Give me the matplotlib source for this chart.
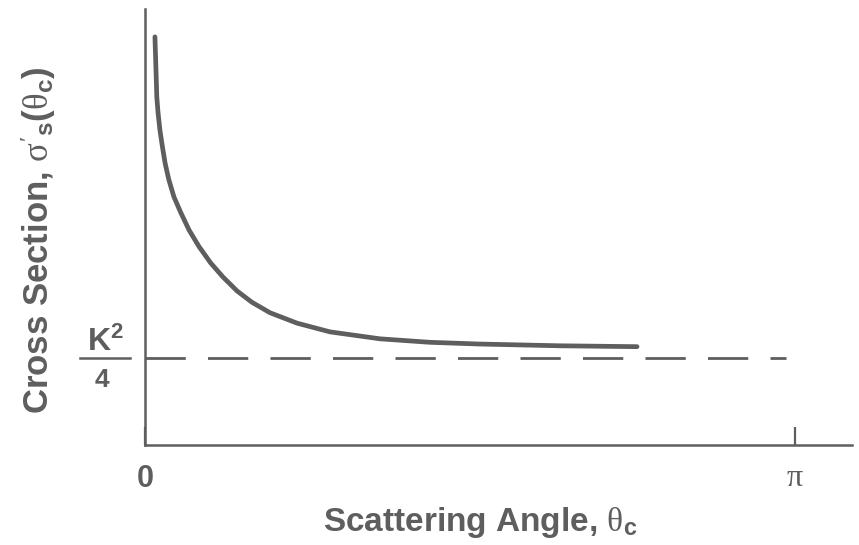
import numpy as np
import matplotlib
matplotlib.use("Agg")
import matplotlib.pyplot as plt
import matplotlib.transforms as mtransforms

# curve (x in radians, y in units of K^2/4)
theta = [0.048, 0.052, 0.057, 0.063, 0.072, 0.084, 0.097, 0.115, 0.140,
         0.173, 0.213, 0.261, 0.318, 0.377, 0.445, 0.517, 0.604, 0.735,
         0.894, 1.136, 1.377, 1.619, 2.006, 2.378]
sigma = [4.69, 4.39, 4.00, 3.82, 3.62, 3.43, 3.24, 3.05, 2.85,
         2.67, 2.47, 2.28, 2.09, 1.93, 1.77, 1.64, 1.52, 1.40,
         1.30, 1.22, 1.18, 1.16, 1.14, 1.13]

# asymptote K^2/4
asym_x = [0.0, 3.10]
asym_y = [1.0, 1.0]

xtick_pos = [0.0, np.pi]
xtick_labels = ["0", "\u03c0"]

gray = "#5e5e5e"
plt.rcParams['lines.scale_dashes'] = False
plt.rcParams['mathtext.fontset'] = 'custom'
plt.rcParams['mathtext.rm'] = 'Liberation Serif'
plt.rcParams['mathtext.it'] = 'Liberation Serif:italic'
plt.rcParams['mathtext.bf'] = 'Liberation Sans:bold'
plt.rcParams['font.family'] = ['Liberation Sans', 'DejaVu Sans']

fig = plt.figure(figsize=(8.59, 5.45), dpi=100)
ax = fig.add_axes([145/859, 100/545, 707/859, 436/545])

ax.plot(theta, sigma, color=gray, linewidth=3.4, solid_capstyle='round',
        solid_joinstyle='round')
ax.plot(asym_x, asym_y, color=gray, linewidth=2.0, dashes=(29, 16))

ax.set_xlim(0, 3.417)
ax.set_ylim(0, 5.01)

for s in ['top', 'right']:
    ax.spines[s].set_visible(False)
for s in ['left', 'bottom']:
    ax.spines[s].set_color(gray)
    ax.spines[s].set_linewidth(1.8)

ax.set_yticks([])
ax.set_xticks(xtick_pos)
ax.set_xticklabels(xtick_labels)
ax.tick_params(axis='x', direction='in', length=13, width=1.6, color=gray,
               pad=14, labelcolor=gray)
lab0, labpi = ax.get_xticklabels()
lab0.set_fontsize(22)
lab0.set_fontweight('bold')
labpi.set_fontsize(23)
labpi.set_family('Liberation Serif')

ax.set_xlabel(r"Scattering Angle, $\mathrm{\theta}_{\mathbf{c}}$",
              fontsize=24, fontweight='bold', color=gray)
ax.xaxis.set_label_coords((480 - 145) / 707, (445 - 505) / 436)

ax.set_ylabel(r"Cross Section, $\mathrm{\sigma}'_{\mathbf{s}}\mathbf{(}\mathrm{\theta}_{\mathbf{c}}\mathbf{)}$",
              fontsize=25, fontweight='bold', color=gray)
ax.yaxis.set_label_coords((58 - 145) / 707, (445 - 240) / 436)

# K^2/4 fraction label on the left
tr = mtransforms.blended_transform_factory(fig.transFigure, ax.transData)
ax.text(105/859, 1.0, r"K$\mathbf{^2}$", transform=tr, fontsize=23,
        fontweight='bold', color=gray, ha='center', va='bottom')
ax.plot([80/859, 130/859], [1.0, 1.0], transform=tr, color=gray,
        linewidth=1.8, clip_on=False)
ax.text(102/859, 0.88, "4", transform=tr, fontsize=19,
        fontweight='bold', color=gray, ha='center', va='top')

fig.savefig("out.png", dpi=100, facecolor='white')
